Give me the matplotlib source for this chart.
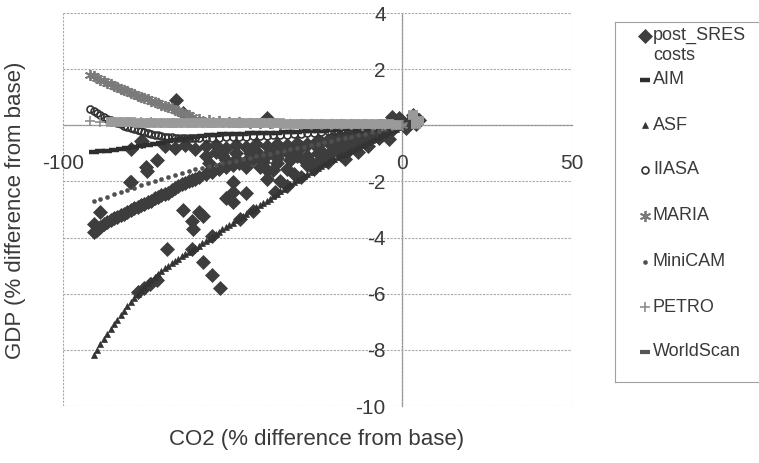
import matplotlib
matplotlib.use("Agg")
import matplotlib.pyplot as plt

plt.rcParams['font.family'] = ['Liberation Sans', 'DejaVu Sans']

# ---------------- data ----------------
# post_SRES costs: main band, points along the ASF curve, scattered points, fill points
sres_band_x = [-91, -90, -89, -88, -87, -86, -85, -84, -83, -82, -81, -80, -79, -78, -77, -76,
               -75, -74, -73, -72, -71, -70, -69, -68, -67, -66, -65, -64, -63, -62, -61, -60,
               -58, -56, -54, -52, -50, -48, -46, -44, -42, -40, -38, -36, -34, -32, -30, -28,
               -26, -24, -22, -20, -18, -16, -14, -12, -10, -8, -6, -4, -2]
sres_band_y = [-3.8, -3.72, -3.62, -3.52, -3.45, -3.38, -3.3, -3.25, -3.2, -3.15, -3.1, -3.03,
               -2.95, -2.9, -2.85, -2.8, -2.75, -2.68, -2.6, -2.55, -2.5, -2.45, -2.4, -2.32,
               -2.25, -2.18, -2.1, -2.05, -2.0, -1.95, -1.9, -1.85, -1.75, -1.65, -1.55, -1.48,
               -1.42, -1.35, -1.28, -1.2, -1.13, -1.07, -1.0, -0.95, -0.88, -0.82, -0.78, -0.72,
               -0.67, -0.6, -0.53, -0.47, -0.42, -0.37, -0.32, -0.27, -0.22, -0.17, -0.12, -0.08,
               -0.03]
sres_curve_x = [-78, -76, -74.3, -72.3, -62, -56, -47.8, -44, -37.5, -34, -30, -26, -22, -18,
                -14, -10, -6, -3]
sres_curve_y = [-5.95, -5.8, -5.66, -5.5, -4.4, -3.95, -3.35, -3.05, -2.38, -2.15, -1.85, -1.55,
                -1.3, -1.05, -0.8, -0.55, -0.35, -0.18]
sres_scatter_x = [-66.7, -64.6, -40, -76.7, -72.3, -75.5, -80, -89, -91, -64.6, -61.6, -69.3,
                  -50, -50, -50, -58.7, -58.7, -56, -53.7, -42, -60, -62, -75.2, -80.2, -77, -80,
                  -2, -1, 0, 1, 3, 4, 5, -3, 2]
sres_scatter_y = [0.9, 0.45, 0.25, -0.57, -1.25, -1.5, -2.03, -3.1, -3.5, -3.0, -3.7, -4.41,
                  -2.03, -2.38, -2.74, -3.24, -4.88, -5.35, -5.8, -1.5, -3.1, -3.4, -1.64, -2.03,
                  -0.57, -0.85, 0.1, 0.25, 0.15, -0.1, 0.35, 0.05, 0.2, 0.3, 0.1]
sres_fill_x = [-58, -55, -52, -49, -46, -43, -40, -37, -34, -31, -28, -25, -22, -19, -16, -13,
               -10, -7, -4, -36, -32, -27, -23, -19, -15, -11, -8, -46, -52, -40, -38, -33, -28,
               -24, -20, -16, -12]
sres_fill_y = [-1.1, -0.95, -1.25, -1.0, -1.5, -0.9, -1.6, -1.35, -1.55, -1.1, -1.4, -1.0, -1.15,
               -0.8, -0.9, -0.6, -0.75, -0.45, -0.5, -2.0, -1.75, -1.3, -1.05, -0.65, -0.55, -0.35,
               -0.3, -2.4, -2.6, -1.9, -1.6, -1.25, -1.1, -0.9, -0.85, -0.7, -0.5]
sres_mid_x = [-70, -67, -64, -61, -58, -55, -52, -49, -46, -43, -40, -37, -34, -31, -28, -25,
              -22, -19, -16, -13, -10, -7, -57, -53, -49, -45, -41, -37, -33, -29, -25, -21,
              -17, -13]
sres_mid_y = [-0.75, -0.8, -0.7, -0.85, -0.75, -0.7, -0.8, -0.72, -0.78, -0.68, -0.75, -0.65,
              -0.7, -0.62, -0.65, -0.55, -0.6, -0.5, -0.55, -0.42, -0.38, -0.3, -1.35, -1.05,
              -1.2, -1.0, -1.3, -1.15, -1.05, -1.25, -1.3, -0.95, -1.2, -0.95]

aim_x = list(range(-91, 0, 2))
aim_y = [-0.95, -0.93, -0.9, -0.88, -0.85, -0.82, -0.78, -0.74, -0.7, -0.66, -0.62,
         -0.57, -0.52, -0.48, -0.44, -0.4, -0.37, -0.35, -0.33, -0.32, -0.31, -0.3, -0.3,
         -0.29, -0.29, -0.28, -0.27, -0.26, -0.25, -0.24, -0.23, -0.22, -0.21, -0.2, -0.19,
         -0.18, -0.17, -0.15, -0.14, -0.12, -0.1, -0.09, -0.07, -0.05, -0.03, -0.01]

asf_x = list(range(-91, 1))
asf_y = [-8.2, -8.0, -7.8, -7.62, -7.44, -7.26, -7.08, -6.92, -6.76, -6.6, -6.45, -6.3, -6.15,
         -6.0, -5.87, -5.75, -5.62, -5.5, -5.4, -5.3, -5.2, -5.1, -5.0, -4.9, -4.82, -4.75, -4.67,
         -4.6, -4.52, -4.45, -4.37, -4.3, -4.21, -4.13, -4.05, -3.97, -3.88, -3.8, -3.71, -3.63,
         -3.55, -3.47, -3.38, -3.3, -3.22, -3.15, -3.07, -3.0, -2.92, -2.85, -2.77, -2.7, -2.61,
         -2.53, -2.44, -2.35, -2.26, -2.18, -2.1, -2.02, -1.94, -1.87, -1.8, -1.72, -1.65, -1.58,
         -1.51, -1.45, -1.38, -1.32, -1.25, -1.19, -1.13, -1.07, -1.01, -0.95, -0.89, -0.83,
         -0.77, -0.71, -0.65, -0.6, -0.54, -0.48, -0.42, -0.36, -0.3, -0.24, -0.18, -0.12, -0.06,
         0.0]

iiasa_x = list(range(-92, -59)) + list(range(-58, 0, 2))
iiasa_y = [0.57, 0.5, 0.43, 0.36, 0.3, 0.24, 0.18, 0.13, 0.08, 0.03, -0.02, -0.06, -0.1, -0.14,
           -0.18, -0.22, -0.25, -0.28, -0.3, -0.33, -0.35, -0.38, -0.4, -0.42, -0.43, -0.44,
           -0.45, -0.45, -0.46, -0.46, -0.46, -0.46, -0.46,
           -0.45, -0.44, -0.44, -0.43, -0.42, -0.41, -0.4, -0.39, -0.38, -0.37, -0.36, -0.34,
           -0.33, -0.31, -0.3, -0.28, -0.26, -0.24, -0.22, -0.2, -0.18, -0.16, -0.14, -0.12,
           -0.1, -0.08, -0.06, -0.04, -0.02]

maria_x = list(range(-92, -61)) + list(range(-60, 1, 3))
maria_y = [1.8, 1.75, 1.69, 1.63, 1.57, 1.52, 1.46, 1.41, 1.36, 1.31, 1.26, 1.21, 1.16, 1.11,
           1.06, 1.01, 0.97, 0.92, 0.88, 0.83, 0.79, 0.74, 0.7, 0.65, 0.6, 0.55, 0.5, 0.45, 0.4,
           0.35, 0.3,
           0.22, 0.18, 0.15, 0.12, 0.1, 0.09, 0.08, 0.07, 0.06, 0.06, 0.05, 0.05, 0.04, 0.04,
           0.03, 0.03, 0.02, 0.02, 0.01, 0.01, 0.0]

minicam_x = list(range(-91, 0, 2))
minicam_y = [-2.7, -2.62, -2.54, -2.46, -2.38, -2.3, -2.22, -2.14, -2.06, -1.98, -1.9, -1.83,
             -1.76, -1.69, -1.62, -1.56, -1.51, -1.46, -1.41, -1.36, -1.31, -1.26, -1.21, -1.16,
             -1.11, -1.06, -1.01, -0.96, -0.91, -0.86, -0.81, -0.76, -0.71, -0.66, -0.61, -0.56,
             -0.5, -0.45, -0.4, -0.35, -0.3, -0.25, -0.19, -0.13, -0.08, -0.02]

petro_x = [-92, -89, -86, -83, -80, -77, -74, -71, -68, -65, -62, -59, -56, -53, -50, -47, -44,
           -41, -38, -35, -32, -29, -26, -23, -20, -17, -14, -11, -8, -5, -2, 0]
petro_y = [0.14, 0.12, 0.11, 0.1, 0.1, 0.1, 0.1, 0.09, 0.09, 0.09, 0.09, 0.08, 0.08, 0.08, 0.08,
           0.07, 0.07, 0.07, 0.06, 0.06, 0.06, 0.05, 0.05, 0.05, 0.04, 0.04, 0.03, 0.03, 0.02,
           0.02, 0.01, 0.0]

worldscan_x = list(range(-86, 0, 2)) + [3, 4, 5]
worldscan_y = [0.1, 0.1, 0.1, 0.1, 0.09, 0.09, 0.09, 0.09, 0.09, 0.09, 0.08, 0.08, 0.08, 0.08,
               0.08, 0.08, 0.08, 0.08, 0.07, 0.07, 0.07, 0.07, 0.07, 0.07, 0.07, 0.07, 0.06, 0.06,
               0.06, 0.06, 0.06, 0.06, 0.05, 0.05, 0.05, 0.05, 0.05, 0.04, 0.04, 0.04, 0.03, 0.03,
               0.02, 0.38, 0.05, 0.15]

y_ticks = [-10, -8, -6, -4, -2, 0, 2, 4]
x_ticks = [-100, 0, 50]
legend_labels = ["post_SRES\ncosts", "AIM", "ASF", "IIASA", "MARIA", "MiniCAM", "PETRO", "WorldScan"]

sres_x = sres_band_x + sres_curve_x + sres_scatter_x + sres_fill_x + sres_mid_x
sres_y = sres_band_y + sres_curve_y + sres_scatter_y + sres_fill_y + sres_mid_y

# ---------------- styles ----------------
TXT = '#3a3a3a'
styles = [
    dict(marker='D', ms=6.8, color='#3d3d3d', mec='#3d3d3d', mfc='#3d3d3d', mew=0.5),
    dict(marker='_', ms=7, color='#2e2e2e', mec='#2e2e2e', mew=3.2),
    dict(marker='^', ms=4.2, color='#333333', mec='#333333', mfc='#333333', mew=0.5),
    dict(marker='o', ms=5.0, color='#333333', mec='#333333', mfc='none', mew=1.2),
    dict(marker=(6, 2, 0), ms=8, color='#7a7a7a', mec='#7a7a7a', mew=1.3),
    dict(marker='o', ms=3.0, color='#505050', mec='#505050', mfc='#505050', mew=0.3),
    dict(marker='+', ms=6.5, color='#8c8c8c', mec='#8c8c8c', mew=1.2),
    dict(marker='_', ms=7, color='#9a9a9a', mec='#9a9a9a', mew=7.0),
]
series = [(sres_x, sres_y), (aim_x, aim_y), (asf_x, asf_y), (iiasa_x, iiasa_y),
          (maria_x, maria_y), (minicam_x, minicam_y), (petro_x, petro_y), (worldscan_x, worldscan_y)]

W, H = 759, 463
fig = plt.figure(figsize=(W / 100, H / 100), dpi=100)
ax = fig.add_axes([63 / W, 1 - 406 / H, (572 - 63) / W, (406 - 13) / H])

for (xs, ys), st in zip(series, styles):
    ax.plot(xs, ys, linestyle='none', clip_on=False, **st)

ax.set_xlim(-100, 50)
ax.set_ylim(-10, 4)
ax.set_xticks(x_ticks)
ax.set_yticks(y_ticks)
ax.set_xticklabels([str(v) for v in x_ticks])
ax.set_yticklabels([str(v) for v in y_ticks])
ax.grid(True, color='#a8a8a8', linestyle=(0, (2, 1.2)), linewidth=0.8)
ax.set_axisbelow(True)
for s in ['top', 'right']:
    ax.spines[s].set_visible(False)
ax.spines['left'].set_position(('data', 0))
ax.spines['bottom'].set_position(('data', 0))
for s in ['left', 'bottom']:
    ax.spines[s].set_color('#8a8a8a')
    ax.spines[s].set_linewidth(0.9)
    ax.spines[s].set_zorder(0.5)
ax.tick_params(axis='both', length=0, labelsize=15, labelcolor=TXT)
ax.tick_params(axis='x', pad=21)
ax.tick_params(axis='y', pad=12)

fig.text(317 / W, 1 - 440 / H, "CO2 (% difference from base)", ha='center', va='center',
         fontsize=16, color=TXT)
fig.text(16 / W, 1 - 210 / H, "GDP (% difference from base)", ha='center', va='center',
         rotation=90, fontsize=16, color=TXT)

# ---------------- legend box ----------------
lx0, lx1, ly0, ly1 = 615, 765, 22, 382
lax = fig.add_axes([lx0 / W, 1 - ly1 / H, (lx1 - lx0) / W, (ly1 - ly0) / H])
lax.set_xlim(lx0, lx1)
lax.set_ylim(ly1, ly0)
lax.set_xticks([])
lax.set_yticks([])
for s in lax.spines.values():
    s.set_color('#a0a0a0')
    s.set_linewidth(0.8)
lax.patch.set_alpha(0)
entry_y = [36, 80, 125, 170, 216, 262, 307, 352]
for lab, st, yy in zip(legend_labels, styles, entry_y):
    st2 = dict(st)
    if lab == "WorldScan":
        st2.update(color='#555555', mec='#555555', mew=3.0)
    if lab == "IIASA":
        st2.update(mfc='white')
    if lab == "post_SRES\ncosts":
        lax.plot([645], [yy], linestyle='none', **st2)
        lax.text(653, yy - 9, lab, ha='left', va='top', fontsize=13, color=TXT, linespacing=1.25)
    else:
        lax.plot([645], [yy], linestyle='none', **st2)
        lax.text(653, yy, lab, ha='left', va='center', fontsize=13, color=TXT)

fig.savefig("out.png", dpi=100)
